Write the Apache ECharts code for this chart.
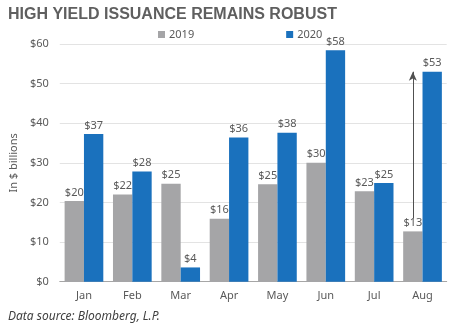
<!DOCTYPE html>
<html>
<head>
<meta charset="utf-8">
<script src="https://cdn.jsdelivr.net/npm/echarts@6/dist/echarts.min.js"></script>
<style>html,body{margin:0;padding:0;background:#fff}#c{width:450px;height:325px}</style>
</head>
<body>
<div id="c"></div>
<script>
const categories = ['Jan', 'Feb', 'Mar', 'Apr', 'May', 'Jun', 'Jul', 'Aug'];
const values2019 = [20.4, 22.0, 24.7, 15.9, 24.6, 30.0, 22.8, 12.7];
const values2020 = [37.3, 27.8, 3.6, 36.4, 37.6, 58.4, 24.9, 53.0];
const arrowFrom = 16;
const arrowTo = 53;
const yTicks = { min: 0, max: 60, interval: 10 };

const font = 'Noto Sans';
const textGray = '#595959';
const chart = echarts.init(document.getElementById('c'), null, { renderer: 'canvas' });
const labelFmt = p => '$' + Math.round(p.value);
chart.setOption({
  animation: false,
  title: [{
    text: 'HIGH YIELD ISSUANCE REMAINS ROBUST',
    left: 3, top: 2,
    textStyle: { fontFamily: 'Liberation Sans', fontWeight: 'bold', fontSize: 16, color: '#5f5f5f' }
  }, {
    text: 'Data source: Bloomberg, L.P.',
    left: 3, top: 306,
    textStyle: { fontFamily: font, fontStyle: 'italic', fontWeight: 'normal', fontSize: 12, color: '#404040' }
  }],
  legend: {
    left: 153, top: 24,
    itemWidth: 7, itemHeight: 7, itemGap: 92,
    icon: 'rect',
    textStyle: { fontFamily: font, fontSize: 11, color: textGray, padding: [0, 0, 0, -1] },
    data: ['2019', '2020']
  },
  grid: { left: 46.5, right: 3.3, top: 44, bottom: 43.3, containLabel: false },
  xAxis: {
    type: 'category',
    data: categories,
    axisLine: { lineStyle: { color: '#a6a6a6', width: 1 } },
    axisTick: { show: false },
    axisLabel: { fontFamily: font, fontSize: 11, color: textGray, margin: 9 }
  },
  yAxis: {
    type: 'value',
    min: yTicks.min, max: yTicks.max, interval: yTicks.interval,
    name: 'In $ billions',
    nameLocation: 'middle',
    nameGap: 34,
    nameTextStyle: { fontFamily: font, fontSize: 11, color: textGray },
    axisLine: { show: false },
    axisTick: { show: false },
    axisLabel: { fontFamily: font, fontSize: 11, color: textGray, margin: 11, formatter: v => '$' + v },
    splitLine: { lineStyle: { color: '#e3e3e3', width: 1 } }
  },
  series: [{
    name: '2019',
    type: 'bar',
    data: values2019,
    barGap: '0%',
    barCategoryGap: '20%',
    itemStyle: { color: '#a5a5a7' },
    label: { show: true, position: 'top', distance: 3, fontFamily: font, fontSize: 11, color: textGray, formatter: labelFmt },
    markLine: {
      silent: true,
      symbol: ['none', 'arrow'],
      symbolSize: [6, 9],
      label: { show: false },
      lineStyle: { color: '#505050', width: 1, type: 'solid' },
      data: [[{ coord: ['Aug', arrowFrom] }, { coord: ['Aug', arrowTo] }]]
    }
  }, {
    name: '2020',
    type: 'bar',
    data: values2020,
    itemStyle: { color: '#1a71bd' },
    label: { show: true, position: 'top', distance: 3, fontFamily: font, fontSize: 11, color: textGray, formatter: labelFmt }
  }]
});
</script>
</body>
</html>
